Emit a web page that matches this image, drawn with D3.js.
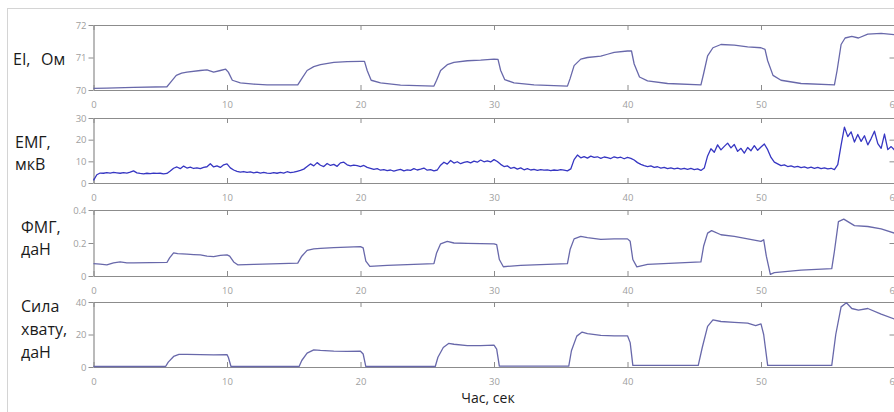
<!DOCTYPE html>
<html>
<head>
<meta charset="utf-8">
<script src="https://cdn.jsdelivr.net/npm/d3@7"></script>
<style>
  body { margin: 0; background: #fff; }
  svg { display: block; }
</style>
</head>
<body>
<svg></svg>
<script>
// time axis ticks (s)
var xTicks = [0, 10, 20, 30, 40, 50, 60];

// EI, Ом
var eiT = [0,1,3,5.5,5.8,6.2,6.6,7,8,8.5,9,9.5,9.9,10.1,10.4,11,12,13,15.3,
  15.6,16,16.5,17,18,19,20,20.3,20.5,20.8,21.5,23,25.5,
  25.7,26,26.5,27,28,29,30,30.3,30.5,30.8,31.5,33,35.5,
  35.7,36,36.5,37,38,38.5,39,40,40.3,40.5,40.9,41.5,43,45.5,
  45.7,46,46.4,47,48,49,50,50.3,50.5,50.9,51.5,53,55.5,
  55.7,56,56.3,56.8,57.3,58,59,60];
var eiV = [70.05,70.06,70.08,70.1,70.25,70.45,70.52,70.55,70.6,70.62,70.55,70.6,70.64,70.55,70.3,70.22,70.18,70.16,70.16,
  70.35,70.6,70.72,70.78,70.85,70.87,70.88,70.88,70.6,70.3,70.22,70.15,70.12,
  70.3,70.6,70.78,70.85,70.9,70.92,70.95,70.94,70.6,70.32,70.22,70.16,70.12,
  70.35,70.75,70.95,71.0,71.04,71.1,71.16,71.2,71.2,70.8,70.4,70.28,70.2,70.16,
  70.5,71.05,71.3,71.4,71.38,71.33,71.3,71.25,70.9,70.45,70.3,70.2,70.16,
  70.6,71.4,71.6,71.65,71.6,71.72,71.74,71.7];

// ЕМГ, мкВ  (samples every 0.25 s from 0 s)
var emgStep = 0.25;
var emgV = [1.2,3.8,4.6,4.5,4.8,4.6,4.9,4.7,4.5,4.8,4.6,5.0,5.6,4.7,4.4,4.2,4.5,4.3,4.6,4.4,4.5,4.2,4.4,5.5,
  6.8,7.4,6.6,7.8,6.9,7.3,6.7,7.0,6.6,7.2,7.5,8.9,7.4,7.9,7.2,8.4,8.8,7.0,
  6.0,5.4,5.0,5.3,4.9,5.1,4.7,5.0,4.6,4.9,4.6,4.4,4.8,4.5,4.9,4.6,5.2,4.8,5.0,5.4,
  5.8,6.4,7.6,8.8,7.9,9.4,8.2,7.6,9.0,8.1,8.6,7.7,9.3,9.6,8.4,7.9,8.3,8.0,7.6,8.1,
  7.2,6.8,6.3,6.6,5.9,6.2,5.7,6.0,5.5,5.9,6.3,5.6,6.1,5.8,6.6,6.0,6.4,6.9,5.9,6.2,5.6,6.0,
  8.2,9.6,8.7,10.4,9.2,9.8,8.9,9.5,9.9,9.3,10.1,9.6,10.6,9.8,10.2,9.7,10.8,9.9,
  8.6,7.6,7.9,6.8,7.2,6.4,7.0,6.1,6.6,6.0,6.3,5.8,6.2,5.9,6.1,5.7,6.0,5.8,6.2,5.9,5.6,6.5,
  10.8,12.9,11.6,12.2,11.5,12.4,11.8,12.1,11.4,12.0,11.7,11.3,12.1,11.6,11.9,11.2,11.8,11.4,
  10.6,9.4,8.6,8.0,7.6,7.9,7.2,7.5,6.9,7.2,6.6,7.0,6.5,6.9,6.4,6.8,6.3,6.7,6.2,6.5,5.8,6.9,
  12.5,15.8,14.2,17.6,15.3,16.9,18.4,16.2,17.8,14.6,16.0,13.8,16.4,14.9,17.2,15.1,16.6,18.0,15.4,
  11.8,9.6,8.8,8.0,8.4,7.6,7.9,7.3,7.7,7.1,7.4,6.9,7.3,6.8,7.2,6.6,7.0,6.5,6.8,6.2,8.5,
  17.5,25.8,21.4,23.6,18.9,22.4,19.2,21.8,17.6,20.5,23.9,18.2,16.0,22.6,15.4,16.8,15.2];

// ФМГ, даН
var fmgT = [0,0.5,1,1.5,2,2.5,3,5.5,5.7,6,6.3,7,7.5,8,8.5,9,9.5,10,10.2,10.5,10.8,12,15.3,
  15.6,16,16.5,17,18,19,20,20.2,20.4,20.7,22,25.5,
  25.7,26,26.5,27,28,29,30,30.2,30.4,30.7,32,35.5,
  35.7,36,36.5,37,38,39,40,40.2,40.4,40.7,41.5,45.5,
  45.7,46,46.3,47,48,49,50,50.2,50.4,50.7,51,53,55.3,
  55.5,55.8,56.2,57,58,59,60];
var fmgV = [0.075,0.072,0.068,0.08,0.086,0.08,0.08,0.082,0.11,0.14,0.135,0.132,0.13,0.128,0.12,0.118,0.125,0.128,0.12,0.085,0.068,0.07,0.078,
  0.12,0.155,0.165,0.168,0.172,0.175,0.178,0.17,0.09,0.058,0.065,0.075,
  0.14,0.195,0.21,0.2,0.198,0.196,0.195,0.19,0.1,0.056,0.065,0.075,
  0.16,0.225,0.24,0.232,0.222,0.225,0.225,0.21,0.1,0.055,0.07,0.085,
  0.18,0.26,0.275,0.25,0.24,0.225,0.21,0.22,0.12,0.01,0.02,0.035,0.045,
  0.15,0.33,0.345,0.305,0.3,0.285,0.26];

// Сила хвату, даН
var gripT = [0,5.4,5.6,6,6.4,7,8,9,10,10.1,10.3,15.4,
  15.6,16,16.5,17,18,19,20,20.2,20.4,25.6,
  25.8,26.2,26.6,27,28,29,30,30.2,30.4,35.6,
  35.8,36.2,36.6,37,38,39,40,40.2,40.4,45.3,
  45.6,46,46.4,47,48,49,49.6,50,50.2,50.5,55.3,
  55.6,56,56.4,56.8,57.3,58,59,60];
var gripV = [0.3,0.3,3,6.5,7.8,7.8,7.6,7.4,7.6,6,0.3,0.3,
  4,8.5,10.5,10.2,9.8,9.6,9.7,8,0.3,0.3,
  6,12,14.5,14,13.2,13.2,13.4,11,0.5,0.5,
  10,19,21.5,20.5,19.5,19.2,19.2,15,1,1,
  12,25,29,28,27.5,27,25.5,26.5,20,1,1,
  20,37,39.5,36,35,36,32.5,29.5];

var emgT = emgV.map(function(d, i) { return i * emgStep; });

// label lines: [text, x, y]
var panels = [
  { t: eiT,   v: eiV,   dom: [70, 72],  ticks: [70, 71, 72],     top: 25,  bottom: 90,  color: "#6868aa",
    label: [["EI,", 13, 65], ["Ом", 41, 65]] },
  { t: emgT,  v: emgV,  dom: [0, 30],   ticks: [0, 10, 20, 30],  top: 118, bottom: 183, color: "#3636c2",
    label: [["ЕМГ,", 15, 148], ["мкВ", 15, 170]] },
  { t: fmgT,  v: fmgV,  dom: [0, 0.4],  ticks: [0, 0.2, 0.4],    top: 210, bottom: 276, color: "#6868aa",
    label: [["ФМГ,", 21, 233], ["даН", 21, 255]] },
  { t: gripT, v: gripV, dom: [0, 40],   ticks: [0, 20, 40],      top: 302, bottom: 367, color: "#6868aa",
    label: [["Сила", 21, 312], ["хвату,", 21, 335], ["даН", 21, 358]] }
];

var svgWidth = 894, svgHeight = 412;

var svg = d3.select("svg")
    .attr("width", svgWidth)
    .attr("height", svgHeight);

svg.append("rect")
    .attr("width", "100%")
    .attr("height", "100%")
    .attr("fill", "white");

// outer frame
svg.append("rect")
    .attr("x", 7.5)
    .attr("y", 8.5)
    .attr("width", 920)
    .attr("height", 420)
    .attr("fill", "none")
    .style("stroke", "#d4d4d4");

var xScale = d3.scaleLinear()
    .domain([0, 60])
    .range([93.5, 894.5]);

var axisColor = "#8c8c8c", tickText = "#a0a0a0";

panels.forEach(function(p) {
    var yScale = d3.scaleLinear()
        .domain(p.dom)
        .range([p.bottom, p.top]);

    var g = svg.append("g");

    var bottomAxis = d3.axisBottom(xScale)
        .tickValues(xTicks)
        .tickSizeInner(-5)
        .tickSizeOuter(0)
        .tickPadding(11)
        .tickFormat(d3.format("d"));
    var gb = g.append("g")
        .attr("transform", "translate(0," + p.bottom + ")")
        .call(bottomAxis);

    var topAxis = d3.axisTop(xScale)
        .tickValues(xTicks)
        .tickSizeInner(-5)
        .tickSizeOuter(0)
        .tickFormat("");
    var gt = g.append("g")
        .attr("transform", "translate(0," + p.top + ")")
        .call(topAxis);

    var leftAxis = d3.axisLeft(yScale)
        .tickValues(p.ticks)
        .tickSizeInner(5)
        .tickSizeOuter(0)
        .tickPadding(2)
        .tickFormat(d3.format("~g"));
    var gl = g.append("g")
        .attr("transform", "translate(" + xScale(0) + ",0)")
        .call(leftAxis);

    var rightAxis = d3.axisRight(yScale)
        .tickValues(p.ticks)
        .tickSizeInner(-5)
        .tickSizeOuter(0)
        .tickFormat("");
    var gr = g.append("g")
        .attr("transform", "translate(" + xScale(60) + ",0)")
        .call(rightAxis);

    [gb, gt, gl, gr].forEach(function(a) {
        a.select(".domain").style("stroke", axisColor).style("stroke-width", 1.2);
        a.selectAll(".tick line").style("stroke", axisColor);
        a.selectAll(".tick text")
            .style("fill", tickText)
            .style("font-family", "Open Sans, sans-serif")
            .style("font-size", "9.5px");
    });

    var line = d3.line()
        .x(function(d, i) { return xScale(p.t[i]); })
        .y(function(d) { return yScale(d); });

    g.append("path")
        .datum(p.v)
        .attr("d", line)
        .attr("fill", "none")
        .style("stroke", p.color)
        .style("stroke-width", 1.3)
        .style("stroke-linejoin", "round");

    p.label.forEach(function(l) {
        svg.append("text")
            .attr("x", l[1])
            .attr("y", l[2])
            .text(l[0])
            .style("font-family", "Open Sans, sans-serif")
            .style("font-size", "16px")
            .style("fill", "#1a1a1a");
    });
});

svg.append("text")
    .attr("x", 488)
    .attr("y", 403)
    .attr("text-anchor", "middle")
    .text("Час, сек")
    .style("font-family", "Open Sans, sans-serif")
    .style("font-size", "14px")
    .style("fill", "#1a1a1a");
</script>
</body>
</html>
